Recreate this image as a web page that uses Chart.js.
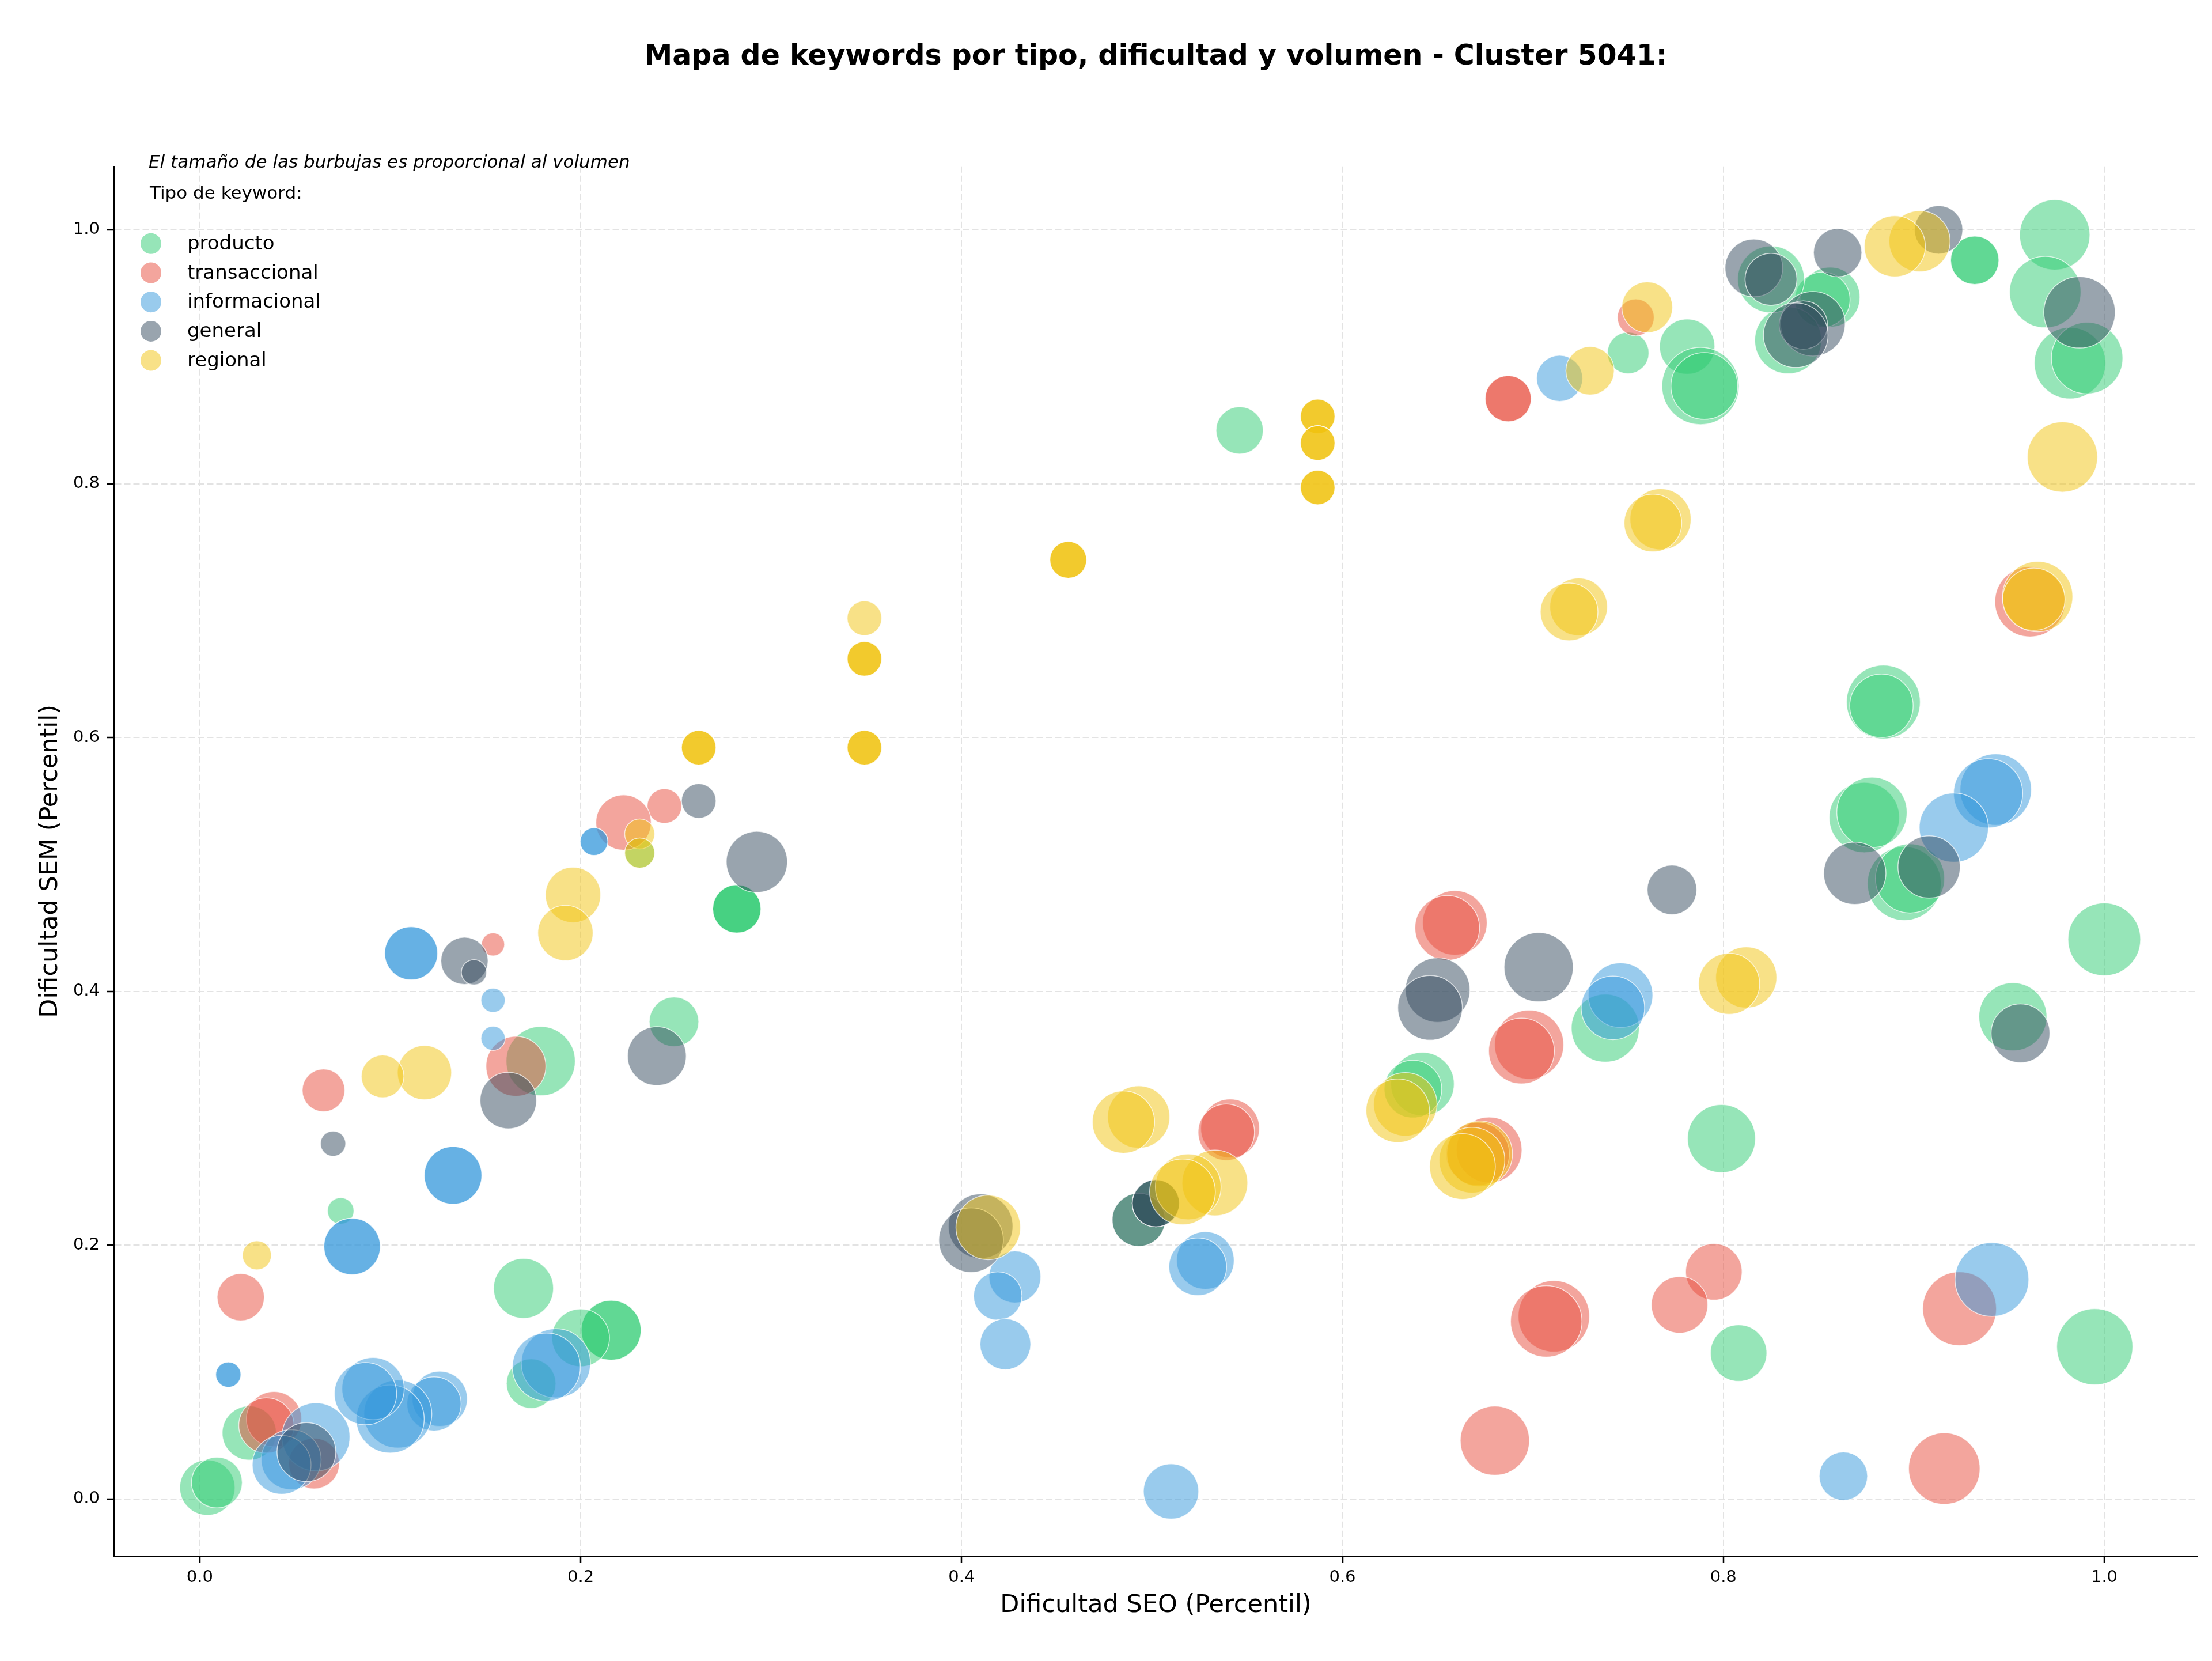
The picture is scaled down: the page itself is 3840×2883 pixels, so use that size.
<!DOCTYPE html>
<html>
<head>
<meta charset="utf-8">
<script src="https://cdn.jsdelivr.net/npm/chart.js@4.4.0/dist/chart.umd.min.js"></script>
<style>
  html, body { margin: 0; padding: 0; background: #fff; }
  canvas { display: block; }
</style>
</head>
<body>
<canvas id="mapa" width="3840" height="2883"></canvas>
<script>
// Dificultad SEO (x), dificultad SEM (y) y volumen de cada keyword, por tipo
const productoSEO = [0.974, 0.969, 0.982, 0.991, 0.932, 0.932, 0.856, 0.852, 0.834, 0.825, 0.781, 0.788, 0.790, 0.750, 0.546, 0.884, 0.883, 0.874, 0.878, 0.895, 0.898, 1.000, 0.952, 0.995, 0.808, 0.799, 0.738, 0.642, 0.637, 0.493, 0.502, 0.282, 0.282, 0.282, 0.249, 0.179, 0.231, 0.074, 0.170, 0.216, 0.216, 0.200, 0.174, 0.026, 0.004, 0.009];
const productoSEM = [0.996, 0.951, 0.895, 0.899, 0.976, 0.976, 0.947, 0.945, 0.913, 0.961, 0.908, 0.877, 0.877, 0.903, 0.842, 0.628, 0.625, 0.537, 0.541, 0.485, 0.489, 0.441, 0.380, 0.120, 0.115, 0.284, 0.371, 0.327, 0.323, 0.220, 0.233, 0.465, 0.465, 0.465, 0.376, 0.345, 0.509, 0.227, 0.166, 0.133, 0.133, 0.127, 0.091, 0.052, 0.009, 0.013];
const productoVol = [3720, 3840, 3840, 3840, 1760, 1760, 2700, 2300, 3360, 3360, 2300, 4490, 3360, 1300, 1680, 4100, 3030, 3720, 3720, 4100, 3600, 3970, 3480, 4360, 2400, 3480, 3480, 3030, 2500, 2120, 1680, 1760, 1760, 1760, 1850, 3600, 680, 530, 2700, 2700, 2700, 2500, 1850, 2210, 2300, 1940];

const transaccionalSEO = [0.961, 0.754, 0.687, 0.687, 0.659, 0.655, 0.698, 0.694, 0.677, 0.671, 0.795, 0.777, 0.711, 0.707, 0.680, 0.924, 0.916, 0.541, 0.539, 0.244, 0.2225, 0.154, 0.166, 0.065, 0.0215, 0.039, 0.035, 0.060];
const transaccionalSEM = [0.707, 0.931, 0.867, 0.867, 0.454, 0.450, 0.358, 0.353, 0.275, 0.272, 0.179, 0.153, 0.144, 0.140, 0.046, 0.150, 0.024, 0.292, 0.289, 0.546, 0.533, 0.437, 0.341, 0.322, 0.159, 0.063, 0.058, 0.028];
const transaccionalVol = [3720, 1020, 1600, 1600, 3140, 3140, 3600, 3250, 3250, 3030, 2400, 2400, 3840, 3840, 3600, 4100, 3840, 2600, 2400, 900, 2300, 400, 2700, 1370, 1680, 2300, 2300, 1940];

const informacionalSEO = [0.714, 0.746, 0.742, 0.943, 0.939, 0.921, 0.941, 0.863, 0.510, 0.528, 0.524, 0.428, 0.419, 0.423, 0.207, 0.207, 0.111, 0.111, 0.154, 0.154, 0.133, 0.133, 0.080, 0.080, 0.015, 0.015, 0.187, 0.182, 0.126, 0.123, 0.104, 0.100, 0.091, 0.087, 0.061, 0.048, 0.043];
const informacionalSEM = [0.883, 0.397, 0.387, 0.559, 0.556, 0.529, 0.173, 0.018, 0.006, 0.188, 0.183, 0.175, 0.160, 0.122, 0.518, 0.518, 0.430, 0.430, 0.393, 0.363, 0.255, 0.255, 0.199, 0.199, 0.098, 0.098, 0.107, 0.104, 0.079, 0.075, 0.067, 0.063, 0.087, 0.083, 0.049, 0.031, 0.027];
const informacionalVol = [1600, 3140, 3030, 3840, 3600, 3600, 4100, 1760, 2300, 2500, 2500, 2030, 1760, 1940, 580, 580, 2120, 2120, 440, 440, 2500, 2500, 2400, 2400, 480, 480, 3600, 3480, 2300, 2210, 3480, 3480, 2920, 2920, 3480, 2700, 2600];

const generalSEO = [0.913, 0.860, 0.987, 0.847, 0.842, 0.838, 0.816, 0.825, 0.773, 0.650, 0.646, 0.703, 0.869, 0.908, 0.956, 0.493, 0.502, 0.502, 0.410, 0.405, 0.262, 0.2925, 0.139, 0.144, 0.240, 0.162, 0.070, 0.056];
const generalSEM = [1.000, 0.982, 0.935, 0.926, 0.925, 0.917, 0.970, 0.961, 0.480, 0.401, 0.387, 0.419, 0.493, 0.498, 0.367, 0.220, 0.233, 0.233, 0.215, 0.204, 0.550, 0.502, 0.424, 0.415, 0.349, 0.314, 0.280, 0.037];
const generalVol = [1760, 1760, 3840, 3140, 1760, 3140, 2500, 2030, 1850, 3140, 3140, 3600, 2920, 2920, 2600, 2120, 1680, 1680, 3140, 3140, 900, 2810, 1680, 480, 2600, 2400, 480, 2600];

const regionalSEO = [0.903, 0.890, 0.760, 0.730, 0.587, 0.587, 0.587, 0.587, 0.587, 0.587, 0.587, 0.587, 0.587, 0.978, 0.767, 0.763, 0.456, 0.456, 0.456, 0.724, 0.719, 0.965, 0.963, 0.349, 0.349, 0.349, 0.349, 0.349, 0.349, 0.349, 0.262, 0.262, 0.262, 0.231, 0.231, 0.196, 0.192, 0.118, 0.096, 0.030, 0.812, 0.803, 0.633, 0.629, 0.672, 0.668, 0.663, 0.493, 0.485, 0.533, 0.519, 0.516, 0.414];
const regionalSEM = [0.991, 0.987, 0.939, 0.889, 0.853, 0.853, 0.853, 0.832, 0.832, 0.832, 0.797, 0.797, 0.797, 0.821, 0.772, 0.769, 0.740, 0.740, 0.740, 0.703, 0.699, 0.711, 0.709, 0.694, 0.662, 0.662, 0.662, 0.592, 0.592, 0.592, 0.592, 0.592, 0.592, 0.524, 0.509, 0.476, 0.446, 0.336, 0.333, 0.192, 0.411, 0.406, 0.311, 0.306, 0.272, 0.267, 0.262, 0.301, 0.297, 0.249, 0.246, 0.242, 0.214];
const regionalVol = [2810, 2810, 1940, 1760, 900, 900, 900, 900, 900, 900, 900, 900, 900, 3720, 2810, 2500, 1020, 1020, 1020, 2500, 2500, 3720, 2920, 900, 900, 900, 900, 900, 900, 900, 900, 900, 900, 680, 680, 2300, 2300, 2210, 1370, 630, 2810, 2810, 3030, 3030, 3250, 3250, 3250, 2920, 2920, 3250, 3250, 3250, 3140];

const tipos = ['producto', 'transaccional', 'informacional', 'general', 'regional'];
const colores = ['rgba(46, 204, 113, 0.5)', 'rgba(231, 76, 60, 0.5)', 'rgba(52, 152, 219, 0.5)', 'rgba(52, 73, 94, 0.5)', 'rgba(241, 196, 15, 0.5)'];
const xTicks = [0.0, 0.2, 0.4, 0.6, 0.8, 1.0];
const yTicks = [0.0, 0.2, 0.4, 0.6, 0.8, 1.0];

const FUENTE = '"DejaVu Sans", sans-serif';

// radio de la burbuja: el area es proporcional al volumen
function puntos(seo, sem, vol) {
    return seo.map((x, i) => ({ x: x, y: sem[i], r: Math.sqrt(vol[i]) }));
}

const series = [
    puntos(productoSEO, productoSEM, productoVol),
    puntos(transaccionalSEO, transaccionalSEM, transaccionalVol),
    puntos(informacionalSEO, informacionalSEM, informacionalVol),
    puntos(generalSEO, generalSEM, generalVol),
    puntos(regionalSEO, regionalSEM, regionalVol)
];

// leyenda dentro del area del grafico, como en el original
const leyendaTipos = {
    id: 'leyendaTipos',
    afterDraw(chart) {
        const ctx = chart.ctx;
        const area = chart.chartArea;
        ctx.save();
        ctx.textAlign = 'left';
        ctx.textBaseline = 'alphabetic';
        ctx.fillStyle = '#000';
        ctx.font = 'italic 31px ' + FUENTE;
        ctx.fillText('El tamaño de las burbujas es proporcional al volumen', area.left + 60, area.top + 2);
        ctx.font = '31px ' + FUENTE;
        ctx.fillText('Tipo de keyword:', area.left + 62, area.top + 56);
        chart.data.datasets.forEach((ds, i) => {
            const cy = area.top + 134 + i * 50.7;
            ctx.beginPath();
            ctx.arc(area.left + 64, cy, 18, 0, Math.PI * 2);
            ctx.fillStyle = ds.backgroundColor;
            ctx.fill();
            ctx.fillStyle = '#000';
            ctx.font = '34px ' + FUENTE;
            ctx.fillText(ds.label, area.left + 127, cy + 10);
        });
        ctx.restore();
    }
};

const ctx = document.getElementById('mapa').getContext('2d');
const chart = new Chart(ctx, {
    type: 'bubble',
    data: {
        datasets: tipos.map((t, i) => ({
            label: t,
            data: series[i],
            backgroundColor: colores[i],
            borderColor: 'rgba(255, 255, 255, 0.7)',
            borderWidth: 1.5,
            order: tipos.length - i
        }))
    },
    options: {
        responsive: false,
        devicePixelRatio: 1,
        animation: false,
        events: [],
        layout: {
            autoPadding: false,
            padding: { left: 0, right: 25, top: 0, bottom: 0 }
        },
        plugins: {
            legend: { display: false },
            tooltip: { enabled: false },
            title: {
                display: true,
                text: 'Mapa de keywords por tipo, dificultad y volumen - Cluster 5041:',
                fullSize: false,
                color: '#000',
                font: { family: FUENTE, size: 49, weight: 'bold' },
                padding: { top: 70, bottom: 160 }
            }
        },
        scales: {
            x: {
                type: 'linear',
                min: -0.045,
                max: 1.049,
                afterBuildTicks: axis => { axis.ticks = xTicks.map(v => ({ value: v })); },
                afterFit: axis => {
                    axis.height = 182;
                    axis.paddingLeft = 0;
                    axis.paddingRight = 0;
                },
                ticks: {
                    color: '#000',
                    padding: 8,
                    font: { family: FUENTE, size: 29 },
                    callback: v => Number(v).toFixed(1)
                },
                grid: {
                    color: '#e3e3e3',
                    lineWidth: 2,
                    tickLength: 12,
                    tickColor: '#000',
                    tickWidth: 2.5
                },
                border: { display: true, color: '#000', width: 2.5, dash: [11, 5] },
                title: {
                    display: true,
                    text: 'Dificultad SEO (Percentil)',
                    color: '#000',
                    font: { family: FUENTE, size: 43 },
                    padding: { top: 0, bottom: 70 }
                }
            },
            y: {
                type: 'linear',
                min: -0.045,
                max: 1.05,
                afterBuildTicks: axis => { axis.ticks = yTicks.map(v => ({ value: v })); },
                afterFit: axis => {
                    axis.width = 198;
                    axis.paddingTop = 0;
                    axis.paddingBottom = 0;
                },
                ticks: {
                    color: '#000',
                    padding: 13,
                    font: { family: FUENTE, size: 29 },
                    callback: v => Number(v).toFixed(1)
                },
                grid: {
                    color: '#e3e3e3',
                    lineWidth: 2,
                    tickLength: 12,
                    tickColor: '#000',
                    tickWidth: 2.5
                },
                border: { display: true, color: '#000', width: 2.5, dash: [11, 5] },
                title: {
                    display: true,
                    text: 'Dificultad SEM (Percentil)',
                    color: '#000',
                    font: { family: FUENTE, size: 43 },
                    padding: { top: 62, bottom: 0 }
                }
            }
        }
    },
    plugins: [leyendaTipos]
});
</script>
</body>
</html>
